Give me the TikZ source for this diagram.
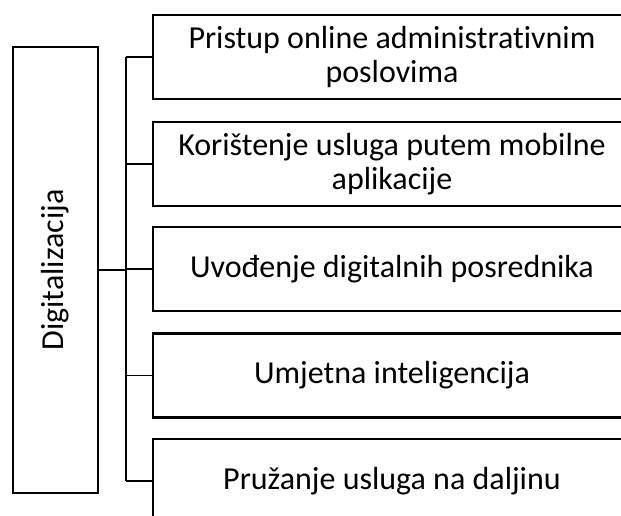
\documentclass[tikz,border=0pt]{standalone}
\usepackage{fontspec}
\setmainfont{Carlito}[Ligatures=NoCommon]
\begin{document}
\begin{tikzpicture}[x=0.75pt,y=0.75pt,yscale=-1,xscale=1]
            \useasboundingbox (0,0) rectangle (621,516); % page 621 x 516
            \tikzset{
              itembox/.style={draw, line width=1.6pt, minimum width=358.5pt, minimum height=63pt, inner sep=0.75pt, align=center, font=\fontsize{24}{25}\selectfont},
              link/.style={line width=1.2pt}
            }
            % Left box
            \node [draw, line width=1.6pt, minimum width=63.75pt, minimum height=334.5pt, inner sep=0.75pt] (dig) at (55.5,270) {}; % Box Digitalizacija
            \node [rotate=90, inner sep=0.75pt, font=\fontsize{24}{25}\selectfont] (digtext) at (dig.center) {Digitalizacija}; % Text Node Digitalizacija

            % Right boxes
            \node [itembox] (b1) at (392,57) {Pristup online administrativnim\\poslovima};
            \node [itembox] (b2) at (392,164) {Korištenje usluga putem mobilne\\aplikacije};
            \node [itembox] (b3) at (392,269) {Uvođenje digitalnih posrednika};
            \node [itembox] (b4) at (392,375.5) {Umjetna inteligencija};
            \node [itembox] (b5) at (392,481) {Pružanje usluga na daljinu};

            % Spine
            \coordinate (spine) at (126,270);
            \draw [link] (b1.west -| spine) -- (b5.west -| spine); % Line
            \draw [link, line width=1.6pt] (dig.east) -- (spine); % Line to left box

            % Branches
            \draw [link] (b1.west -| spine) -- (b1.west);
            \draw [link] (b2.west -| spine) -- (b2.west);
            \draw [link] (b3.west -| spine) -- (b3.west);
            \draw [link] (b4.west -| spine) -- (b4.west);
            \draw [link] (b5.west -| spine) -- (b5.west);
        \end{tikzpicture}
\end{document}
